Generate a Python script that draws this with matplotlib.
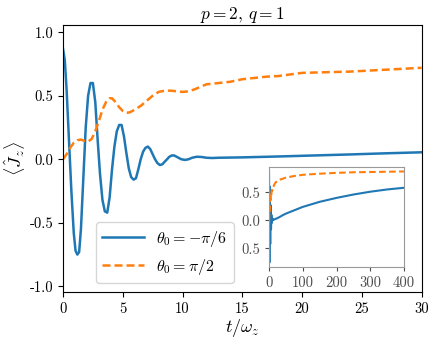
import numpy as np
import matplotlib
matplotlib.use("Agg")
import matplotlib.pyplot as plt

plt.rcParams['font.family'] = 'serif'
plt.rcParams['font.serif'] = ['cmr10', 'DejaVu Serif']
plt.rcParams['mathtext.fontset'] = 'cm'
plt.rcParams['axes.unicode_minus'] = False

#                               DATA

t_blue = [0.0, 0.15, 0.3, 0.5, 0.7, 0.9, 1.05, 1.2, 1.35, 1.5, 1.7, 1.9, 2.1, 2.3, 2.5,
          2.7, 2.9, 3.1, 3.3, 3.5, 3.7, 3.9, 4.1, 4.3, 4.5, 4.7, 4.9, 5.1, 5.3, 5.5,
          5.7, 5.9, 6.1, 6.3, 6.5, 6.7, 6.9, 7.1, 7.3, 7.5, 7.7, 7.9, 8.1, 8.3, 8.5,
          8.7, 8.9, 9.1, 9.3, 9.6, 9.9, 10.2, 10.5, 10.8, 11.2, 11.6, 12.0, 12.5, 13.0,
          15.0, 18.0, 21.0, 24.0, 27.0, 30.0]
jz_blue = [0.87, 0.78, 0.55, 0.15, -0.25, -0.58, -0.72, -0.75, -0.73, -0.55, -0.15, 0.25, 0.50, 0.60, 0.60,
           0.45, 0.15, -0.12, -0.32, -0.41, -0.42, -0.30, -0.08, 0.10, 0.22, 0.27, 0.27, 0.18, 0.05, -0.07,
           -0.14, -0.16, -0.15, -0.08, 0.0, 0.06, 0.09, 0.10, 0.08, 0.04, 0.0, -0.03, -0.045, -0.04, -0.02,
           0.0, 0.02, 0.03, 0.03, 0.015, 0.0, -0.005, 0.0, 0.012, 0.02, 0.018, 0.012, 0.01, 0.012,
           0.015, 0.022, 0.03, 0.038, 0.047, 0.055]

t_orange = [0.0, 0.3, 0.6, 0.9, 1.2, 1.5, 1.8, 2.1, 2.4, 2.7, 3.0, 3.3, 3.6, 3.9, 4.1,
            4.4, 4.7, 5.0, 5.3, 5.6, 6.0, 6.5, 7.0, 7.5, 8.0, 8.5, 9.0, 9.5, 10.0, 10.5,
            11.0, 11.5, 12.0, 13.0, 14.0, 15.0, 16.0, 17.0, 18.0, 20.0, 22.0, 24.0, 26.0, 28.0, 30.0]
jz_orange = [0.0, 0.04, 0.09, 0.13, 0.15, 0.155, 0.145, 0.14, 0.16, 0.22, 0.30, 0.39, 0.45, 0.48, 0.48,
             0.45, 0.41, 0.38, 0.365, 0.37, 0.39, 0.42, 0.46, 0.50, 0.53, 0.54, 0.54, 0.535, 0.53, 0.535,
             0.55, 0.57, 0.59, 0.60, 0.61, 0.63, 0.64, 0.65, 0.655, 0.68, 0.685, 0.69, 0.70, 0.71, 0.72]

# long-time tail shown in the inset
t_tail = [40, 50, 75, 100, 150, 200, 250, 300, 350, 400]
jz_blue_tail = [0.09, 0.12, 0.18, 0.24, 0.33, 0.40, 0.46, 0.51, 0.55, 0.58]
jz_orange_tail = [0.74, 0.76, 0.79, 0.81, 0.83, 0.845, 0.855, 0.86, 0.865, 0.87]

yticks = [-1.0, -0.5, 0.0, 0.5, 1.0]
inset_xticks = [0, 100, 200, 300, 400]
inset_yticks = [-0.5, 0.0, 0.5]
inset_ylabels = ['0.5', '0.0', '0.5']

#                               PLOT

fig = plt.figure(figsize=(4.36, 3.42), dpi=100)
ax = fig.add_axes([0.1445, 0.146, 0.8225, 0.781])

ax.plot(t_blue, jz_blue, color='#1f77b4', lw=1.8, label=r'$\theta_0=-\pi/6$')
ax.plot(t_orange, jz_orange, color='#ff7f0e', lw=1.8, ls='--', dashes=(3.2, 1.6),
        label=r'$\theta_0=\pi/2$')
ax.set_xlim(0, 30)
ax.set_ylim(-1.045, 1.057)
ax.set_yticks(yticks)
ax.tick_params(labelsize=10.5)
ax.set_xlabel(r'$t/\omega_z$', fontsize=13, labelpad=1)
ax.set_ylabel(r'$\langle \hat{J}_z\rangle$', fontsize=13, labelpad=2)
ax.set_title(r'$p=2$, $q=1$', fontsize=12.5, pad=4)
ax.legend(loc='lower left', bbox_to_anchor=(0.091, 0.033), borderaxespad=0, fontsize=11.5,
          handlelength=2.6, framealpha=0.8, edgecolor='0.8', fancybox=True)

ins = fig.add_axes([0.617, 0.219, 0.31, 0.293])
ins.plot(t_blue + t_tail, jz_blue + jz_blue_tail, color='#1f77b4', lw=1.5)
ins.plot(t_orange + t_tail, jz_orange + jz_orange_tail, color='#ff7f0e', lw=1.5, ls='--',
         dashes=(3.2, 1.6))
ins.set_xlim(0, 400)
ins.set_xticks(inset_xticks)
ins.set_yticks(inset_yticks)
ins.set_yticklabels(inset_ylabels)
ins.tick_params(labelsize=10.5, colors='0.3', length=3)
for s in ins.spines.values():
    s.set_color('0.6')

fig.savefig('out.png', dpi=100)
